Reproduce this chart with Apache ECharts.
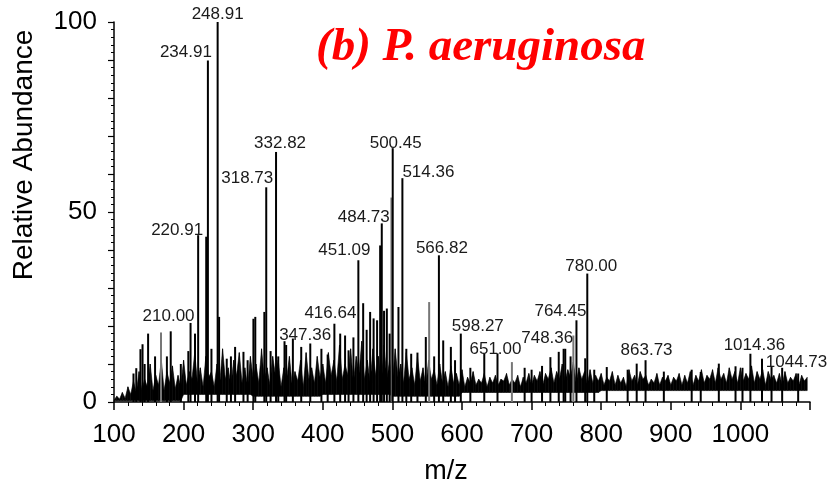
<!DOCTYPE html>
<html>
<head>
<meta charset="utf-8">
<script src="https://cdn.jsdelivr.net/npm/echarts@6/dist/echarts.min.js"></script>
<style>
  html, body { margin: 0; padding: 0; background: #fff; }
  #main { width: 827px; height: 487px; }
</style>
</head>
<body>
<div id="main"></div>
<script>
  // noise profile, one reading every 4 m/z starting at 100
  const noiseStart = 100;
  const noiseStep = 4;
  const noiseInt = [
    0.5, 1.5, 0.8, 2.5, 1, 4, 2, 5.5, 2.5, 8, 3, 6, 4, 10, 3, 7, 4.5, 11, 3, 8, 5, 9.5, 3.5, 7, 4,
    11, 4.5, 8, 6, 13, 5, 9, 4, 12, 6.5, 8, 4, 10, 5, 14, 6, 9, 4.5, 11, 7, 13, 5, 9, 4, 12,
    6, 10, 5, 14, 6, 9, 4.5, 12, 7, 11, 4, 9, 6, 12, 4.5, 8, 5.5, 11, 4, 13, 6, 9, 5, 12, 6.5,
    10, 5, 13, 7, 11, 5.5, 15, 6, 10, 7, 14, 5, 12, 7.5, 16, 6, 11, 5, 14, 7, 12, 4.5, 15, 6, 11,
    5, 14, 6.5, 10, 5, 13, 6, 9, 4.5, 12, 5.5, 9, 4, 11, 6, 8.5, 4.5, 10, 5, 8, 4, 9.5, 5, 7.5, 4.5,
    8.5, 4, 6.5, 5, 8, 4.5, 6, 5, 7.5, 4, 6.5, 5, 7, 4.5, 6, 5.5, 7.5, 4.5, 6, 5, 7, 4, 6.5, 5, 7.5,
    4.5, 7, 5.5, 8, 4.5, 7.5, 6, 9, 5, 8, 6, 10, 5.5, 8.5, 6.5, 10.5, 5, 9, 6, 8, 4.5, 8.5, 5, 7, 5.5,
    7.5, 4.5, 6.5, 5.5, 8, 4.5, 7, 5, 6.5, 4, 8.5, 5.5, 7, 4.5, 8, 6, 7, 4.5, 6, 5, 7.5, 4.5, 6.5, 5.5, 7,
    4.5, 6.5, 5.5, 7.5, 4.5, 7, 5, 8, 4.5, 7, 5.5, 8.5, 5, 7, 6, 8.5, 5, 9, 6, 7.5, 5, 9, 6, 8, 5,
    9, 5.5, 7.5, 6, 9.5, 5, 8, 6, 8.5, 4.5, 8, 6, 7, 5, 7.5, 4.5, 8, 5, 6.5, 5.5, 7.5, 4.5, 7, 5.5, 6.5
  ];
  // lower edge of the noise band, one value per 100 m/z block (100, 200, ... 1000)
  const noiseFloor = [0.3, 2, 1.5, 2, 1.5, 2.5, 2.5, 3, 3, 3];

  // labelled peaks
  const labeledMz = [210.00, 220.91, 234.91, 248.91, 318.73, 332.82, 347.36, 416.64, 451.09, 484.73,
    500.45, 514.36, 566.82, 598.27, 651.00, 748.36, 764.45, 780.00, 863.73, 1014.36, 1044.73];
  const labeledInt = [20.8, 43.9, 89.9, 100, 56.5, 65.8, 15, 20.6, 37.3, 47.0,
    66.8, 58.9, 38.6, 18.0, 12.8, 14.0, 21.5, 33.8, 11.0, 12.7, 9.2];

  // other visible sticks
  const otherMz = [128, 132, 138, 141, 144, 149, 159, 176, 181.5, 196, 206.8, 216.4, 232.5, 240, 251,
    262, 268, 274, 286, 292, 300.3, 303, 316, 325, 336, 345, 357, 369, 382, 398, 407, 425, 432, 437,
    444, 458, 463, 468, 473, 478, 482.4, 488, 492, 496, 508.7, 520, 527, 536, 548, 560, 573, 584, 590,
    612, 632, 690, 700, 715, 727, 739, 746, 756, 777, 790, 808, 838, 851, 890, 930, 943, 969, 993,
    1003, 1031, 1060, 1083];
  const otherInt = [7.5, 8.9, 13.9, 15.2, 10, 18, 12, 12, 18.6, 10, 13.4, 18, 43.5, 14, 22.4,
    11.4, 12, 14.5, 13.2, 11, 21.9, 22.4, 23.7, 13.4, 12, 16, 16.7, 14.5, 15.4, 14, 12.5, 18, 17.5, 13.6,
    17, 26, 19, 23.7, 22, 21.5, 41.2, 24, 24.6, 18, 25, 14, 12.7, 13, 17.1, 12, 16.2, 14.5, 11,
    9, 12.8, 9, 8.5, 9.5, 11.8, 13.2, 14, 12, 11.5, 8.5, 9.2, 8.5, 10.1, 8, 8.5, 7.9, 10.1, 9.4,
    9, 11.4, 9, 7.5];

  // fainter (grey) sticks
  const greyMz = [167.5, 498.6, 552.8, 671.7, 760];
  const greyInt = [18.3, 53.8, 26.3, 10.5, 17.5];

  const xTicks = [100, 200, 300, 400, 500, 600, 700, 800, 900, 1000];
  const yTicks = [0, 50, 100];

  // label nudges relative to the default 'top' spot
  const labelOffsets = {
    '210.00': [-22, 7], '220.91': [-21, 9], '234.91': [-22, 5], '248.91': [0, 6],
    '318.73': [-19, 5], '332.82': [4, 5], '347.36': [19, 4], '416.64': [-4, 3],
    '451.09': [-14, 4], '484.73': [-18, 7], '500.45': [3, 9], '514.36': [26, 8],
    '566.82': [3, 6], '598.27': [17, 6], '651.00': [-2, 9], '748.36': [-18, 3],
    '764.45': [-16, 5], '780.00': [4, 6], '863.73': [1, 4], '1014.36': [4, 5], '1044.73': [25, 9]
  };

  const font = 'Liberation Sans, Arial, sans-serif';
  const chart = echarts.init(document.getElementById('main'));

  // one quad per noise segment: [x0, y0, x1, y1, floor0, floor1]
  const floorAt = m => noiseFloor[Math.min(noiseFloor.length - 1, Math.floor((m - 100) / 100))];
  const bandData = [];
  for (let i = 0; i < noiseInt.length - 1; i++) {
    const m0 = noiseStart + i * noiseStep, m1 = m0 + noiseStep;
    bandData.push([m0, noiseInt[i], m1, noiseInt[i + 1], floorAt(m0), floorAt(m1)]);
  }
  const labeledData = labeledMz.map((m, i) => {
    const key = m.toFixed(2);
    return { value: [m, labeledInt[i]], name: key, label: { offset: labelOffsets[key] || [0, 0] } };
  });

  chart.setOption({
    animation: false,
    title: {
      text: '(b) P. aeruginosa',
      left: 311,
      top: 19,
      textStyle: { color: '#ff0000', fontSize: 47, fontWeight: 'bold', fontStyle: 'italic',
        fontFamily: 'Liberation Serif, Times New Roman, serif' }
    },
    grid: { left: 114, right: 17, top: 22, bottom: 85, containLabel: false },
    xAxis: {
      type: 'value',
      min: 100,
      max: 1100,
      interval: 100,
      axisLine: { lineStyle: { color: '#000', width: 1.5 } },
      axisTick: { length: 8, lineStyle: { color: '#000', width: 1.5 } },
      minorTick: { show: true, splitNumber: 5, length: 4, lineStyle: { color: '#000' } },
      splitLine: { show: false },
      axisLabel: {
        margin: 20, color: '#000', fontSize: 26, fontFamily: font,
        formatter: v => xTicks.indexOf(v) >= 0 ? String(v) : ''
      }
    },
    yAxis: {
      type: 'value',
      min: 0,
      max: 100,
      interval: 10,
      axisLine: { show: true, lineStyle: { color: '#000', width: 1.5 } },
      axisTick: { show: true, length: 6, lineStyle: { color: '#000', width: 1.2 } },
      minorTick: { show: true, splitNumber: 5, length: 3, lineStyle: { color: '#000' } },
      splitLine: { show: false },
      axisLabel: {
        margin: 17, color: '#000', fontSize: 26, fontFamily: font, padding: [8, 0, 0, 0],
        formatter: v => yTicks.indexOf(v) >= 0 ? String(v) : ''
      }
    },
    graphic: [
      {
        type: 'text', x: 24, y: 155, rotation: Math.PI / 2,
        style: { text: 'Relative Abundance', fill: '#000', font: '28px ' + font,
          textAlign: 'center', textVerticalAlign: 'middle' }
      },
      {
        type: 'text', x: 446, y: 472,
        style: { text: 'm/z', fill: '#000', font: '27px ' + font,
          textAlign: 'center', textVerticalAlign: 'middle' }
      }
    ],
    series: [
      {
        name: 'noise',
        type: 'custom',
        data: bandData,
        encode: { x: [0, 2], y: [1, 3] },
        renderItem: (params, api) => {
          const p0 = api.coord([api.value(0), api.value(4)]);
          const p1 = api.coord([api.value(0), api.value(1)]);
          const p2 = api.coord([api.value(2), api.value(3)]);
          const p3 = api.coord([api.value(2), api.value(5)]);
          return {
            type: 'polygon',
            shape: { points: [p0, p1, p2, p3] },
            style: { fill: '#000', stroke: '#000', lineWidth: 0.6 }
          };
        },
        z: 2
      },
      {
        name: 'grey',
        type: 'bar',
        data: greyMz.map((m, i) => [m, greyInt[i]]),
        barWidth: 2,
        barGap: '-100%',
        itemStyle: { color: '#777' },
        z: 3
      },
      {
        name: 'other',
        type: 'bar',
        data: otherMz.map((m, i) => [m, otherInt[i]]),
        barWidth: 2,
        barGap: '-100%',
        itemStyle: { color: '#000' },
        z: 4
      },
      {
        name: 'labelled',
        type: 'bar',
        data: labeledData,
        barWidth: 2,
        barGap: '-100%',
        itemStyle: { color: '#000' },
        z: 5,
        label: {
          show: true,
          position: 'top',
          distance: 5,
          color: '#1a1a1a',
          fontSize: 17,
          fontFamily: font,
          formatter: p => p.name
        }
      }
    ]
  });
</script>
</body>
</html>
